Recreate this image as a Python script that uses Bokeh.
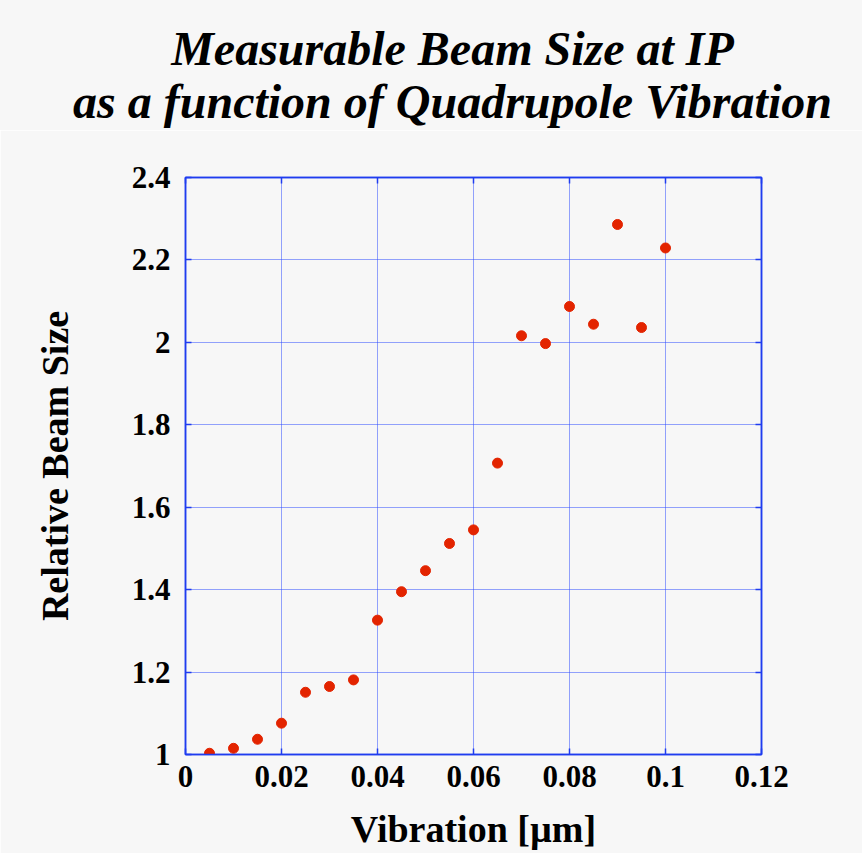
from bokeh.plotting import figure
from bokeh.models import LinearAxis, FixedTicker, Range1d, Div
from bokeh.layouts import column
from bokeh.embed import file_html
from bokeh.resources import INLINE

# Data
vibration = [0.005, 0.010, 0.015, 0.020, 0.025, 0.030, 0.035, 0.040, 0.045, 0.050,
             0.055, 0.060, 0.065, 0.070, 0.075, 0.080, 0.085, 0.090, 0.095, 0.100]
beam_size = [1.003, 1.015, 1.037, 1.076, 1.151, 1.165, 1.181, 1.326, 1.395, 1.446,
             1.512, 1.545, 1.707, 2.016, 1.997, 2.087, 2.044, 2.286, 2.036, 2.229]

x_ticks = [0, 0.02, 0.04, 0.06, 0.08, 0.1, 0.12]
x_tick_labels = ["0", "0.02", "0.04", "0.06", "0.08", "0.1", "0.12"]
y_ticks = [1, 1.2, 1.4, 1.6, 1.8, 2, 2.2, 2.4]
y_tick_labels = ["1", "1.2", "1.4", "1.6", "1.8", "2", "2.2", "2.4"]

title_line1 = "Measurable Beam Size at IP"
title_line2 = "as a function of Quadrupole Vibration"
x_label = "Vibration [\u00b5m]"
y_label = "Relative Beam Size"

BLUE = "#1f3cf0"
GRID = "#2a48ff"
BG = "#f7f7f7"
SERIF = "Liberation Serif"

TITLE_H = 130

line_style = "height:53px;line-height:53px;overflow:visible;white-space:nowrap;"
title_div = Div(
    text=(f'<div style="box-sizing:border-box;width:862px;height:{TITLE_H}px;'
          f'background-color:{BG};font-family:\'{SERIF}\',serif;font-weight:bold;'
          f'font-style:italic;font-size:48px;text-align:center;color:black;'
          f'padding:22px 0 0 43px;margin:0;">'
          f'<div style="{line_style}">{title_line1}</div>'
          f'<div style="{line_style}">{title_line2}</div></div>'),
    width=862, height=TITLE_H, margin=0,
    styles={"background-color": BG})

p = figure(width=862, height=853 - TITLE_H, output_backend="svg", toolbar_location=None,
           x_range=Range1d(0, 0.12), y_range=Range1d(1, 2.4),
           min_border_left=185, min_border_right=101, min_border_top=177 - TITLE_H,
           min_border_bottom=99, margin=0,
           background_fill_color=BG, border_fill_color=BG)

p.outline_line_color = BLUE
p.outline_line_width = 1.5

def style_axis(ax, ticks, labels, show_labels=True):
    ax.ticker = FixedTicker(ticks=ticks)
    ax.major_label_overrides = dict(zip(ticks, labels))
    ax.axis_line_color = BLUE
    ax.axis_line_width = 1.5
    ax.major_tick_line_color = BLUE
    ax.major_tick_line_width = 1.5
    ax.major_tick_in = 6
    ax.major_tick_out = 0
    ax.minor_tick_line_color = None
    ax.major_label_text_font = SERIF
    ax.major_label_text_font_style = "bold"
    if show_labels:
        ax.major_label_text_font_size = "31px"
        ax.major_label_text_color = "black"
    else:
        ax.major_label_text_font_size = "10px"
        ax.major_label_text_color = None
        ax.major_label_standoff = 0
    ax.axis_label_text_font = SERIF
    ax.axis_label_text_font_style = "bold"
    ax.axis_label_text_font_size = "38px"
    ax.axis_label_text_color = "black"

xb = p.xaxis[0]
yl = p.yaxis[0]
style_axis(xb, x_ticks, x_tick_labels)
style_axis(yl, y_ticks, y_tick_labels)
xb.axis_label = x_label
yl.axis_label = y_label
xb.major_label_standoff = 11
xb.axis_label_standoff = 18
xb.axis_label_text_line_height = 0.8
yl.major_label_standoff = 15
yl.axis_label_standoff = 53

xt = LinearAxis()
yr = LinearAxis()
p.add_layout(xt, "above")
p.add_layout(yr, "right")
style_axis(xt, x_ticks, x_tick_labels, show_labels=False)
style_axis(yr, y_ticks, y_tick_labels, show_labels=False)

p.xgrid.ticker = FixedTicker(ticks=x_ticks)
p.ygrid.ticker = FixedTicker(ticks=y_ticks)
for g in (p.xgrid[0], p.ygrid[0]):
    g.grid_line_color = GRID
    g.grid_line_width = 1
    g.grid_line_dash = "1 1"

p.scatter(vibration, beam_size, size=10, color="#e32400", line_color="#e32400")

layout = column(title_div, p, spacing=0, margin=0)

open("out.html", "w").write(file_html(layout, INLINE))
